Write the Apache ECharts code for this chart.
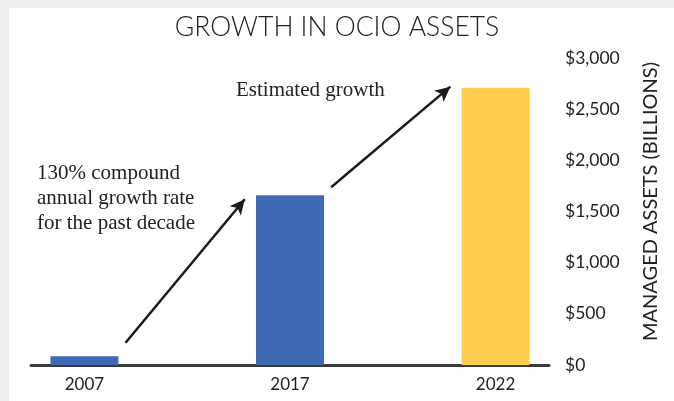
<!DOCTYPE html>
<html>
<head>
<meta charset="utf-8">
<script src="https://cdn.jsdelivr.net/npm/echarts@6/dist/echarts.min.js"></script>
<style>
  html, body { margin: 0; padding: 0; background: #eeeeee; width: 674px; height: 401px; overflow: hidden; }
  #panel { position: absolute; left: 9px; top: 8px; right: 0; bottom: 0; background: #ffffff; }
  #chart { position: absolute; left: 0; top: 0; width: 674px; height: 401px; }
</style>
</head>
<body>
<div id="panel"></div>
<div id="chart"></div>
<script>
// ---- data ----
const categories = ['2007', '2017', '2022'];
const assets = [85, 1660, 2710];            // managed assets, $ billions
const yTicks = [0, 500, 1000, 1500, 2000, 2500, 3000];
const titleText = 'GROWTH IN OCIO ASSETS';
const yAxisName = 'MANAGED ASSETS (BILLIONS)';
const noteLeft = ['130% compound', 'annual growth rate', 'for the past decade'];
const noteRight = 'Estimated growth';
// arrow annotations in data space: [xIndex, value] start -> end
const arrowStarts = [[0.20, 218], [1.20, 1737]];
const arrowEnds = [[0.78, 1619], [1.78, 2720]];

// ---- styles ----
const barColors = ['#3e6ab3', '#3e6ab3', '#fecd50'];
const sansFont = 'Lato, "Open Sans", sans-serif';
const serifFont = '"Liberation Serif", "DejaVu Serif", serif';

const chart = echarts.init(document.getElementById('chart'), null, { renderer: 'canvas' });

const barData = assets.map((v, i) => ({
  value: [i, v],
  itemStyle: { color: barColors[i] }
}));

const arrowLines = arrowStarts.map((s, i) => [
  { coord: s },
  { coord: arrowEnds[i] }
]);

chart.setOption({
  animation: false,
  backgroundColor: 'transparent',
  title: {
    text: titleText,
    left: 'center',
    top: 9,
    textStyle: { fontFamily: sansFont, fontWeight: 300, fontSize: 26.5, color: '#222222' }
  },
  grid: { left: 31, right: 125, top: 58, bottom: 36 },
  xAxis: {
    type: 'value',
    min: -0.26,
    max: 2.26,
    splitNumber: 2,
    axisLine: { show: true, onZero: false, lineStyle: { color: '#3a3a3a', width: 3 } },
    axisTick: { show: false },
    splitLine: { show: false },
    axisLabel: {
      margin: 11,
      fontFamily: sansFont,
      fontSize: 17,
      color: '#222222',
      showMinLabel: false,
      showMaxLabel: false,
      formatter: function (v) {
        const i = Math.round(v);
        return Math.abs(v - i) < 1e-6 && categories[i] ? categories[i] : '';
      }
    }
  },
  yAxis: {
    type: 'value',
    position: 'right',
    min: yTicks[0],
    max: yTicks[yTicks.length - 1],
    interval: yTicks[1] - yTicks[0],
    axisLine: { show: false },
    axisTick: { show: false },
    splitLine: { show: false },
    axisLabel: {
      margin: 16,
      fontFamily: sansFont,
      fontSize: 17.5,
      color: '#222222',
      padding: [0, 0, 6, 0],
      formatter: function (v) { return '$' + v.toLocaleString('en-US'); }
    },
    name: yAxisName,
    nameLocation: 'middle',
    nameRotate: 90,
    nameGap: 92,
    nameTextStyle: {
      fontFamily: sansFont,
      fontSize: 20,
      color: '#222222',
      padding: [0, 0, 0, 20]
    }
  },
  series: [{
    type: 'bar',
    data: barData,
    barWidth: 68,
    silent: true,
    markLine: {
      silent: true,
      symbol: ['none', 'arrow'],
      symbolSize: [11, 15],
      label: { show: false },
      lineStyle: { color: '#1a1a1a', width: 2.5, type: 'solid' },
      emphasis: { disabled: true },
      data: arrowLines
    }
  }],
  graphic: [
    {
      type: 'text',
      left: 37,
      top: 161,
      style: {
        text: noteLeft.join('\n'),
        font: '21px ' + serifFont,
        fill: '#222222',
        lineHeight: 25
      }
    },
    {
      type: 'text',
      left: 236,
      top: 80,
      style: {
        text: noteRight,
        font: '21px ' + serifFont,
        fill: '#222222'
      }
    }
  ]
});
</script>
</body>
</html>
